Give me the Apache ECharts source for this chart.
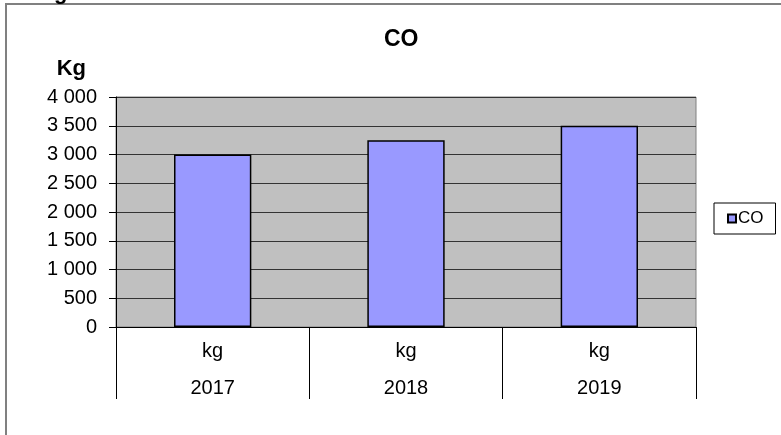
<!DOCTYPE html>
<html>
<head>
<meta charset="utf-8">
<script src="https://cdn.jsdelivr.net/npm/echarts@6/dist/echarts.min.js"></script>
<style>
  html, body { margin: 0; padding: 0; background: #fff; }
  #co-container { width: 781px; height: 435px; }
</style>
</head>
<body>
<div id="co-container"></div>
<script type="text/javascript">
var years = ['2017', '2018', '2019'];
var units = ['kg', 'kg', 'kg'];
var coValues = [3000, 3250, 3500];
var yTicks = [0, 500, 1000, 1500, 2000, 2500, 3000, 3500, 4000];

var dom = document.getElementById('co-container');
var myChart = echarts.init(dom);
var font = 'Liberation Sans, Arial, sans-serif';

var cats = years.map(function (y, i) { return units[i] + '\n' + y; });

option = {
    animation: false,
    textStyle: { fontFamily: font },
    title: {
        text: 'CO',
        left: 379,
        top: 23,
        textStyle: { fontSize: 23, fontWeight: 'bold', color: '#000', fontFamily: font }
    },
    legend: {
        data: ['CO'],
        left: 714,
        top: 203,
        orient: 'vertical',
        backgroundColor: '#fff',
        borderColor: '#000',
        borderWidth: 1,
        padding: [7, 12, 7, 13],
        icon: 'rect',
        itemWidth: 8,
        itemHeight: 8,
        itemGap: 4,
        textStyle: { fontSize: 17, color: '#000', fontFamily: font, padding: [0, 0, 0, -3] }
    },
    grid: {
        left: 116,
        right: 85,
        top: 97,
        bottom: 108,
        show: true,
        backgroundColor: '#C0C0C0',
        borderColor: '#808080',
        borderWidth: 1
    },
    graphic: [
        {
            type: 'rect',
            shape: { x: 6, y: 4, width: 900, height: 600 },
            style: { fill: 'none', stroke: '#808080', lineWidth: 2 },
            z: 0
        },
        {
            type: 'text',
            x: 54,
            y: 4,
            style: { text: 'g', font: 'bold 22px ' + font, fill: '#000', verticalAlign: 'bottom' }
        }
    ],
    xAxis: {
        type: 'category',
        data: cats,
        axisLine: { lineStyle: { color: '#000', width: 1 } },
        axisTick: { show: true, length: 72, lineStyle: { color: '#000' } },
        axisLabel: {
            color: '#000',
            fontSize: 20,
            lineHeight: 37,
            margin: 6,
            fontFamily: font
        }
    },
    yAxis: {
        type: 'value',
        min: yTicks[0],
        max: yTicks[yTicks.length - 1],
        interval: 500,
        name: 'Kg',
        nameLocation: 'end',
        nameGap: 17,
        nameTextStyle: { fontSize: 22, fontWeight: 'bold', color: '#000', align: 'right', padding: [0, 30, 0, 0], fontFamily: font },
        axisLine: { show: true, lineStyle: { color: '#000', width: 1 } },
        axisTick: { show: true, length: 7, lineStyle: { color: '#000' } },
        splitLine: { show: true, lineStyle: { color: '#333', width: 1 } },
        axisLabel: {
            color: '#000',
            fontSize: 20,
            margin: 19,
            fontFamily: font,
            formatter: function (v) {
                return String(v).replace(/\B(?=(\d{3})+(?!\d))/g, ' ');
            }
        }
    },
    series: [{
        name: 'CO',
        type: 'bar',
        barWidth: '40%',
        data: coValues,
        itemStyle: { color: '#9999FF', borderColor: '#000', borderWidth: 1.5 }
    }]
};

if (option && typeof option === 'object') {
    myChart.setOption(option, true);
}
</script>
</body>
</html>
